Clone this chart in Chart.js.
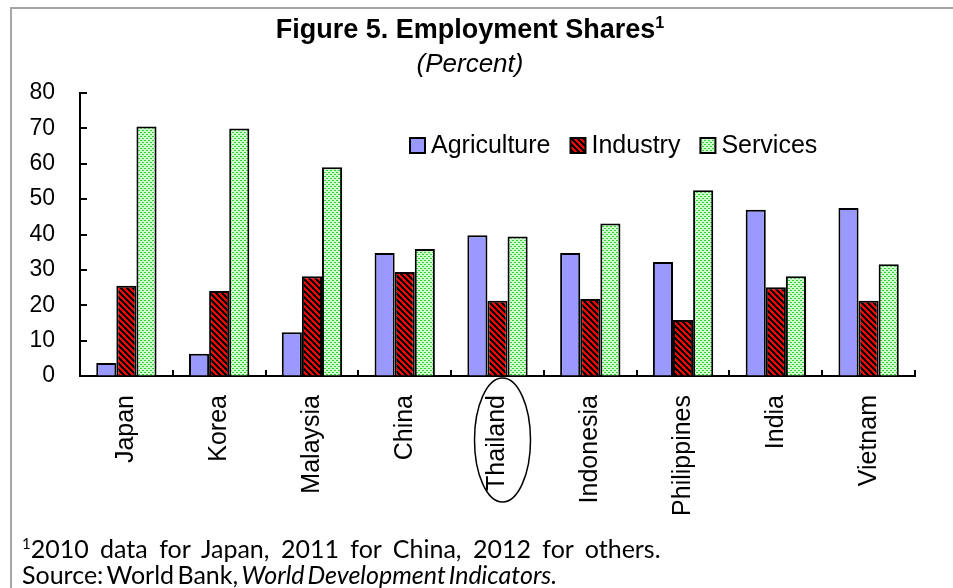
<!DOCTYPE html>
<html>
<head>
<meta charset="utf-8">
<script src="https://cdn.jsdelivr.net/npm/chart.js@4.4.0/dist/chart.umd.min.js"></script>
<style>
  body { margin: 0; background: #fff; }
  #wrap { position: relative; width: 953px; height: 588px; overflow: hidden; }
  #frame { position: absolute; left: 10px; top: 7px; width: 980px; height: 620px;
           border-top: 2px solid #a6a6a6; border-left: 2px solid #a6a6a6; }
  #chart { position: absolute; left: 0; top: 0; }
  .head { position: absolute; left: 0; width: 940px; text-align: center; line-height: 1;
          font-family: "Liberation Sans", Arial, sans-serif; color: #000; white-space: nowrap; }
  #t1 { top: 16px; font-size: 27px; font-weight: bold; }
  #t1 sup { font-size: 60%; vertical-align: 0.6em; line-height: 0; }
  #t2 { top: 50px; font-size: 26px; font-style: italic; }
  .note { position: absolute; left: 22px; font-family: Lato, "Open Sans", sans-serif; font-size: 25px;
          line-height: 1; color: #000; white-space: nowrap; }
  .note sup { font-size: 60%; vertical-align: 0.6em; line-height: 0; }
  #n1 { top: 536px; word-spacing: 5px; }
  #n2 { top: 562px; word-spacing: -3px; }
</style>
</head>
<body>
<div id="wrap">
  <div id="frame"></div>
  <canvas id="chart" width="953" height="588"></canvas>
  <div class="head" id="t1">Figure 5. Employment Shares<sup>1</sup></div>
  <div class="head" id="t2">(Percent)</div>
  <div class="note" id="n1"><sup>1</sup>2010 data for Japan, 2011 for China, 2012 for others.</div>
  <div class="note" id="n2">Source: World Bank, <i>World Development Indicators.</i></div>
</div>
<script>
const categories = ['Japan', 'Korea', 'Malaysia', 'China', 'Thailand', 'Indonesia', 'Philippines', 'India', 'Vietnam'];
const seriesNames = ['Agriculture', 'Industry', 'Services'];
const agriculture = [3.7, 6.3, 12.4, 34.8, 39.8, 34.8, 32.2, 47.0, 47.5];
const industry = [25.5, 24.0, 28.2, 29.4, 21.3, 21.8, 15.8, 25.1, 21.3];
const services = [70.5, 70.0, 59.0, 35.9, 39.4, 43.1, 52.5, 28.2, 31.6];
const yTicks = [0, 10, 20, 30, 40, 50, 60, 70, 80];
const highlighted = 'Thailand';

const FONT = '"Liberation Sans", Arial, sans-serif';
Chart.defaults.font.family = FONT;
Chart.defaults.color = '#000';

const canvas = document.getElementById('chart');
const ctx = canvas.getContext('2d');

function makePattern(w, h, draw) {
  const c = document.createElement('canvas');
  c.width = w; c.height = h;
  draw(c.getContext('2d'), w, h);
  return ctx.createPattern(c, 'repeat');
}

// red with black "\" stripes
const hatch = makePattern(6, 6, (g, w, h) => {
  g.fillStyle = '#ff0000';
  g.fillRect(0, 0, w, h);
  g.fillStyle = '#000000';
  for (let y = 0; y < h; y++)
    for (let x = 0; x < w; x++)
      if ((((x - y) % w) + w) % w < 3) g.fillRect(x, y, 1, 1);
});

// light green with green dots
const dots = makePattern(4, 4, (g, w, h) => {
  g.fillStyle = '#ccffcc';
  g.fillRect(0, 0, w, h);
  g.fillStyle = '#33cc33';
  g.fillRect(0, 0, 2, 1);
  g.fillRect(2, 2, 2, 1);
});

const fills = ['#9999ff', hatch, dots];

const decor = {
  id: 'decor',
  afterDraw(chart) {
    const { ctx, chartArea, scales: { x, y } } = chart;
    ctx.save();
    ctx.strokeStyle = '#000';
    ctx.lineWidth = 2;

    // inward ticks on y axis
    yTicks.forEach(v => {
      const py = Math.round(y.getPixelForValue(v));
      ctx.beginPath();
      ctx.moveTo(chartArea.left, py);
      ctx.lineTo(chartArea.left + 7, py);
      ctx.stroke();
    });

    // ticks between categories on x axis
    const step = x.width / categories.length;
    for (let i = 0; i < categories.length; i++) {
      const px = Math.round(x.getPixelForValue(i) + step / 2);
      ctx.beginPath();
      ctx.moveTo(px, chartArea.bottom);
      ctx.lineTo(px, chartArea.bottom - 6);
      ctx.stroke();
    }

    // legend inside the plot
    ctx.font = '25px ' + FONT;
    ctx.textBaseline = 'middle';
    ctx.textAlign = 'left';
    let lx = 410;
    const ly = 145;
    chart.data.datasets.forEach((ds, i) => {
      ctx.fillStyle = fills[i];
      ctx.fillRect(lx, ly - 7, 15, 15);
      ctx.lineWidth = 2;
      ctx.strokeRect(lx, ly - 7, 15, 15);
      ctx.fillStyle = '#000';
      ctx.fillText(ds.label, lx + 21, ly + 1);
      lx += 21 + ctx.measureText(ds.label).width + 20;
    });

    // circle round the highlighted country label
    const ti = categories.indexOf(highlighted);
    ctx.lineWidth = 1.5;
    ctx.beginPath();
    ctx.ellipse(x.getPixelForValue(ti) + 5, 440, 28, 62, 0, 0, Math.PI * 2);
    ctx.stroke();
    ctx.restore();
  }
};

new Chart(ctx, {
  type: 'bar',
  data: {
    labels: categories,
    datasets: [
      { label: seriesNames[0], data: agriculture, backgroundColor: fills[0] },
      { label: seriesNames[1], data: industry, backgroundColor: fills[1] },
      { label: seriesNames[2], data: services, backgroundColor: fills[2] }
    ]
  },
  options: {
    responsive: false,
    animation: false,
    layout: { padding: { top: 93, right: 38, left: 0, bottom: 0 } },
    datasets: {
      bar: { categoryPercentage: 0.65, barPercentage: 1, borderColor: '#000', borderWidth: 2 }
    },
    plugins: {
      legend: { display: false },
      tooltip: { enabled: false },
      title: { display: false }
    },
    scales: {
      x: {
        grid: { display: true, drawOnChartArea: false, drawTicks: false },
        border: { display: true, color: '#000', width: 2 },
        ticks: { font: { size: 25 }, minRotation: 90, maxRotation: 90, padding: 19, autoSkip: false },
        afterFit: s => { s.height = 212; }
      },
      y: {
        min: 0,
        max: 80,
        afterBuildTicks: s => { s.ticks = yTicks.map(v => ({ value: v })); },
        grid: { display: true, drawOnChartArea: false, drawTicks: false },
        border: { display: true, color: '#000', width: 2 },
        ticks: { font: { size: 23 }, padding: 25 },
        afterFit: s => { s.width = 80; }
      }
    }
  },
  plugins: [decor]
});
</script>
</body>
</html>
